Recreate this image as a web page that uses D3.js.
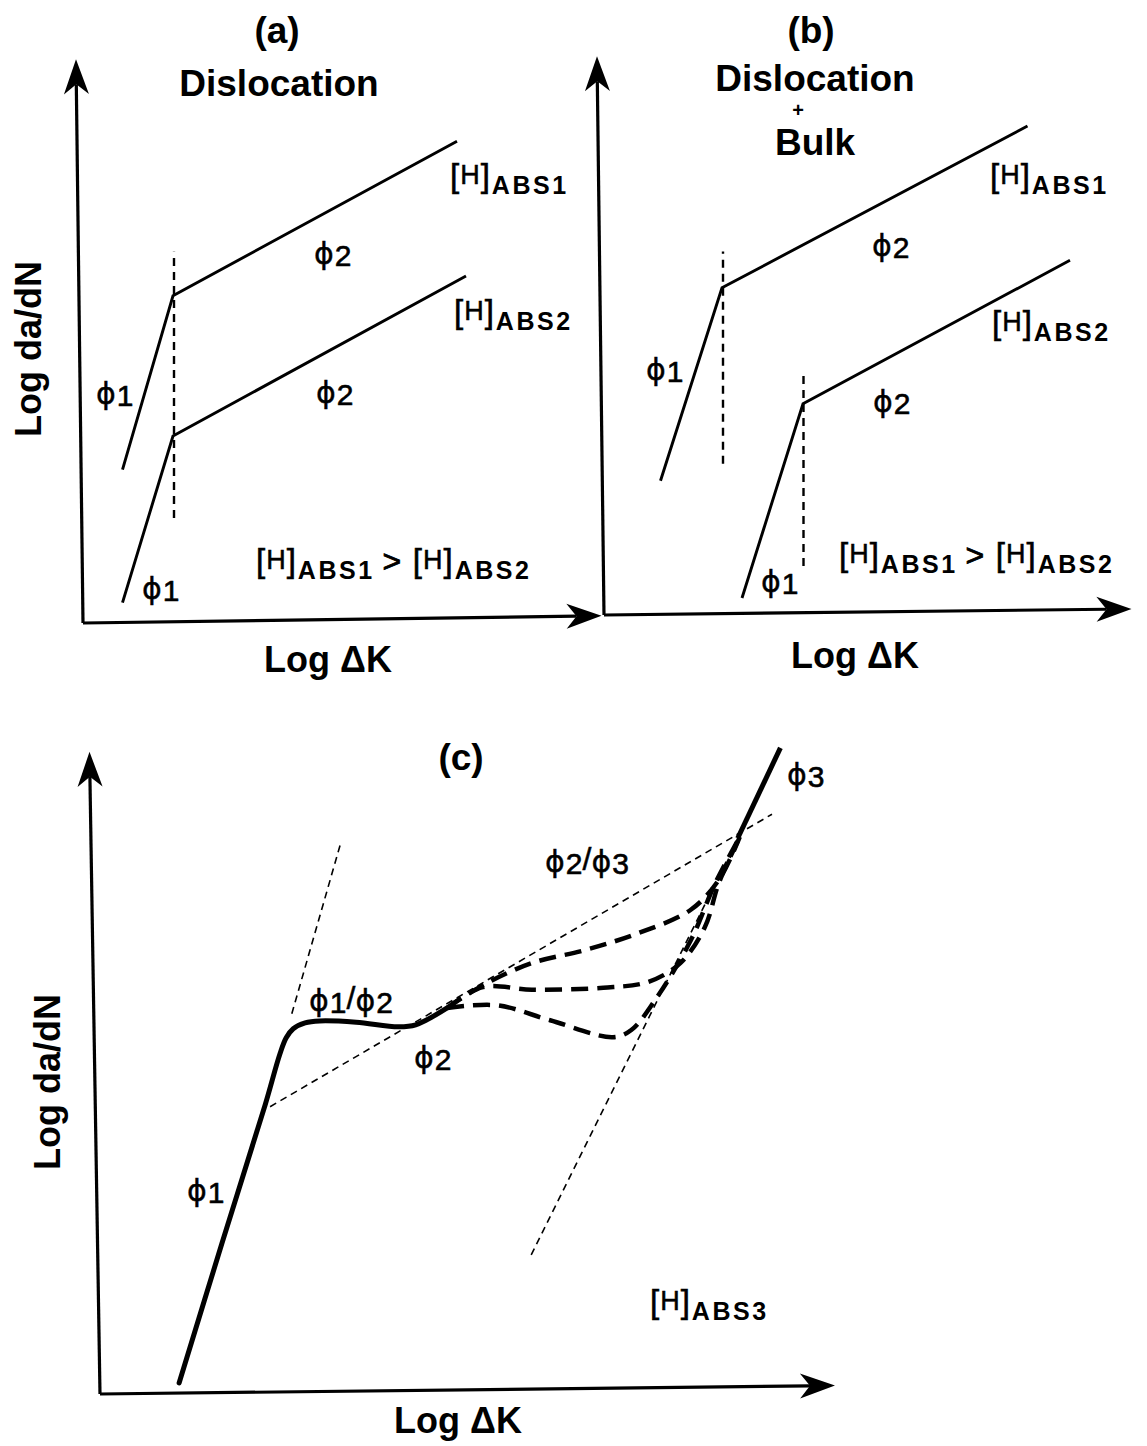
<!DOCTYPE html>
<html><head><meta charset="utf-8">
<script src="https://cdn.jsdelivr.net/npm/d3@7"></script>
<style>
body{margin:0;background:#fff}
text{font-family:"Liberation Sans",Arial,Helvetica,sans-serif;fill:#000}
</style>
</head><body>
<svg id="chart" width="1147" height="1446"></svg>
<script>
// ---------- DATA (schematic units, 0-100 on each axis) ----------
// Panel (a): Dislocation
const aUpper = [{x:7.9,y:27.9},{x:18.0,y:59.5},{x:74.8,y:87.6}];
const aLower = [{x:7.9,y:3.7},{x:18.0,y:34.0},{x:76.6,y:63.1}];
const aTransitions = [{x:18.2,y0:19.1,y1:67.5}];
// Panel (b): Dislocation + Bulk
const bUpper = [{x:11.3,y:24.4},{x:23.6,y:59.5},{x:84.7,y:88.9}];
const bLower = [{x:27.6,y:3.1},{x:39.8,y:38.4},{x:93.2,y:64.5}];
const bTransitions = [{x:23.8,y0:27.5,y1:66.1},{x:39.9,y0:8.9,y1:44.4}];
// Panel (c): main solid curve (phi1 -> phi1/phi2 -> phi2)
const cMain = [{x:11.3,y:1.7},{x:17.4,y:23.1},{x:23.6,y:44.5},{x:25.7,y:52.3},{x:26.6,y:54.8},{x:27.6,y:56.2},{x:29.3,y:57.1},{x:31.4,y:57.4},{x:36.6,y:57.2},{x:42.6,y:56.5},{x:45.1,y:56.8},{x:49.6,y:59.4}];
// Panel (c): dashed transition branches (phi2/phi3)
const cBranchUpper = [{x:49.6,y:59.4},{x:54.7,y:62.9},{x:61.7,y:66.3},{x:69.3,y:68.3},{x:76.9,y:70.9},{x:84.4,y:74.5},{x:88.4,y:79.1},{x:91.4,y:85.7}];
const cBranchMiddle = [{x:49.6,y:59.4},{x:54.7,y:62.6},{x:61.7,y:62.2},{x:71.9,y:62.5},{x:78.3,y:63.4},{x:82.9,y:66.3},{x:86.4,y:71.8},{x:88.4,y:78.6},{x:91.4,y:85.7}];
const cBranchLower = [{x:49.6,y:59.4},{x:56.7,y:59.8},{x:64.3,y:57.5},{x:73.3,y:54.9},{x:75.9,y:56.0},{x:79.3,y:60.6},{x:84.4,y:69.8},{x:87.9,y:78.6},{x:91.4,y:85.7}];
// Panel (c): phi3 solid segment
const cPhi3 = [{x:91.1,y:85.5},{x:97.2,y:99.4}];
// Panel (c): thin tangent (asymptote) lines
const cTangents = [
  [{x:27.4,y:58.5},{x:34.4,y:84.8}],
  [{x:24.3,y:44.2},{x:96.0,y:89.2}],
  [{x:61.6,y:21.4},{x:91.1,y:85.5}]
];
// Axis end points (axes drawn from origin to arrow tip)
const axisTipsA = {y:{x:-1.4,y:102.5}, x:{x:103.7,y:1.3}};
const axisTipsB = {y:{x:-1.4,y:101.6}, x:{x:105.5,y:1.1}};
const axisTipsC = {y:{x:-1.5,y:98.8}, x:{x:105.0,y:1.3}};

// ---------- SCALES ----------
const xA = d3.scaleLinear().domain([0,100]).range([83,583]);
const yA = d3.scaleLinear().domain([0,100]).range([623,73]);
const xB = d3.scaleLinear().domain([0,100]).range([604,1104]);
const yB = d3.scaleLinear().domain([0,100]).range([615,65]);
const xC = d3.scaleLinear().domain([0,100]).range([100,800]);
const yC = d3.scaleLinear().domain([0,100]).range([1394,744]);

const svg = d3.select("#chart");
const PHI = "\u03D5";

function arrowAxis(g, x, y, tip){
  const x1=x(0), y1=y(0), x2=x(tip.x), y2=y(tip.y);
  const dx=x2-x1, dy=y2-y1, len=Math.hypot(dx,dy), ux=dx/len, uy=dy/len, nx=-uy, ny=ux;
  const L=35, W=12.5, N=25;
  g.append("line").attr("x1",x1).attr("y1",y1).attr("x2",x2-ux*N).attr("y2",y2-uy*N)
    .attr("stroke","#000").attr("stroke-width",3.2);
  const pts=[[x2,y2],[x2-ux*L+nx*W,y2-uy*L+ny*W],[x2-ux*N,y2-uy*N],[x2-ux*L-nx*W,y2-uy*L-ny*W]];
  g.append("path").attr("d","M"+pts.map(p=>p.join(",")).join("L")+"Z").attr("fill","#000");
}

function richText(g, x, y, segs, anchor){
  const t=g.append("text").attr("x",x).attr("y",y).attr("text-anchor",anchor||"start");
  let cur=0;
  segs.forEach(s=>{
    const off=s.off||0;
    const ts=t.append("tspan").attr("dy",off-cur).style("font-size",s.size+"px")
      .style("font-weight",s.bold?"bold":"normal").text(s.t);
    if(s.ls) ts.style("letter-spacing",s.ls+"px");
    if(s.font) ts.style("font-family",s.font);
    if(s.dx) ts.attr("dx",s.dx);
    if(s.thick) ts.attr("stroke","#000").attr("stroke-width",s.thick);
    cur=off;
  });
  return t;
}
const P = (off)=>({t:PHI,size:30,font:"DejaVu Sans",off:off||0,thick:0.4});
const D = (d)=>({t:d,size:30,off:2,dx:1,thick:0.6});
function phiLabel(g,x,y,d){ richText(g,x,y,[P(),D(d)]); }
function phiRatio(g,x,y,d1,d2){
  richText(g,x,y,[P(),D(d1),{t:"/",size:32,off:-2,thick:0.5},P(0),D(d2)]);
}
const hSegs = (sub)=>[{t:"[",size:33,off:0,thick:0.6},{t:"H",size:27,off:-3,dx:1,thick:0.5},{t:"]",size:33,off:0,dx:1,thick:0.6},{t:sub,size:25,bold:true,off:7,ls:2.5,dx:2}];
function hLabel(g,x,y,sub){ richText(g,x,y,hSegs(sub)); }
function hIneq(g,x,y){
  richText(g,x,y,[...hSegs("ABS1"),{t:">",size:32,off:0,dx:8,thick:0.8},{t:" ",size:20,off:0},...hSegs("ABS2").map((s,i)=>i===0?Object.assign({},s,{dx:6}):s)]);
}

const line = (x,y)=>d3.line().x(d=>x(d.x)).y(d=>y(d.y));
function title(g,x,y,txt,size){ g.append("text").attr("x",x).attr("y",y).attr("text-anchor","middle").style("font-size",size+"px").style("font-weight","bold").text(txt); }

// ---------- PANEL A ----------
const gA = svg.append("g");
arrowAxis(gA,xA,yA,axisTipsA.y); arrowAxis(gA,xA,yA,axisTipsA.x);
[aUpper,aLower].forEach(s=>gA.append("path").attr("d",line(xA,yA)(s)).attr("fill","none").attr("stroke","#000").attr("stroke-width",2.9));
aTransitions.forEach(t=>gA.append("line").attr("x1",xA(t.x)).attr("x2",xA(t.x)).attr("y1",yA(t.y0)).attr("y2",yA(t.y1))
  .attr("stroke","#000").attr("stroke-width",2.4).attr("stroke-dasharray","8,6"));
title(gA,277,43,"(a)",37);
title(gA,279,96,"Dislocation",37);
title(gA,328,672,"Log \u0394K",36);
gA.append("text").attr("transform","translate(41,349) rotate(-90)").attr("text-anchor","middle").style("font-size","36px").style("font-weight","bold").text("Log da/dN");
phiLabel(gA,96,404,"1"); phiLabel(gA,142,599,"1");
phiLabel(gA,314,264,"2"); phiLabel(gA,316,403,"2");
hLabel(gA,450,187,"ABS1"); hLabel(gA,454,323,"ABS2");
hIneq(gA,256,572);

// ---------- PANEL B ----------
const gB = svg.append("g");
arrowAxis(gB,xB,yB,axisTipsB.y); arrowAxis(gB,xB,yB,axisTipsB.x);
[bUpper,bLower].forEach(s=>gB.append("path").attr("d",line(xB,yB)(s)).attr("fill","none").attr("stroke","#000").attr("stroke-width",2.9));
bTransitions.forEach(t=>gB.append("line").attr("x1",xB(t.x)).attr("x2",xB(t.x)).attr("y1",yB(t.y0)).attr("y2",yB(t.y1))
  .attr("stroke","#000").attr("stroke-width",2.4).attr("stroke-dasharray","8,6"));
title(gB,811,43,"(b)",37);
title(gB,815,91,"Dislocation",37);
title(gB,798,117,"+",20);
title(gB,815,155,"Bulk",37);
title(gB,855,668,"Log \u0394K",36);
phiLabel(gB,646,380,"1"); phiLabel(gB,761,592,"1");
phiLabel(gB,872,256,"2"); phiLabel(gB,873,412,"2");
hLabel(gB,990,187,"ABS1"); hLabel(gB,992,334,"ABS2");
hIneq(gB,839,566);

// ---------- PANEL C ----------
const gC = svg.append("g");
arrowAxis(gC,xC,yC,axisTipsC.y); arrowAxis(gC,xC,yC,axisTipsC.x);
cTangents.forEach(s=>gC.append("path").attr("d",line(xC,yC)(s)).attr("fill","none").attr("stroke","#000").attr("stroke-width",1.6).attr("stroke-dasharray","7,5"));
const smooth = d3.line().x(d=>xC(d.x)).y(d=>yC(d.y)).curve(d3.curveCatmullRom.alpha(0.5));
gC.append("path").attr("d",smooth(cMain)).attr("fill","none").attr("stroke","#000").attr("stroke-width",5).attr("stroke-linecap","round");
[cBranchUpper,cBranchMiddle,cBranchLower].forEach(s=>gC.append("path").attr("d",smooth(s)).attr("fill","none").attr("stroke","#000").attr("stroke-width",4.5).attr("stroke-dasharray","17,9"));
gC.append("path").attr("d",line(xC,yC)(cPhi3)).attr("fill","none").attr("stroke","#000").attr("stroke-width",5);
title(gC,461,770,"(c)",37);
title(gC,458,1433,"Log \u0394K",36);
gC.append("text").attr("transform","translate(60,1082) rotate(-90)").attr("text-anchor","middle").style("font-size","36px").style("font-weight","bold").text("Log da/dN");
phiLabel(gC,787,785,"3");
phiRatio(gC,545,872,"2","3");
phiRatio(gC,309,1011,"1","2");
phiLabel(gC,414,1068,"2");
phiLabel(gC,187,1201,"1");
hLabel(gC,650,1313,"ABS3");
</script>
</body></html>
